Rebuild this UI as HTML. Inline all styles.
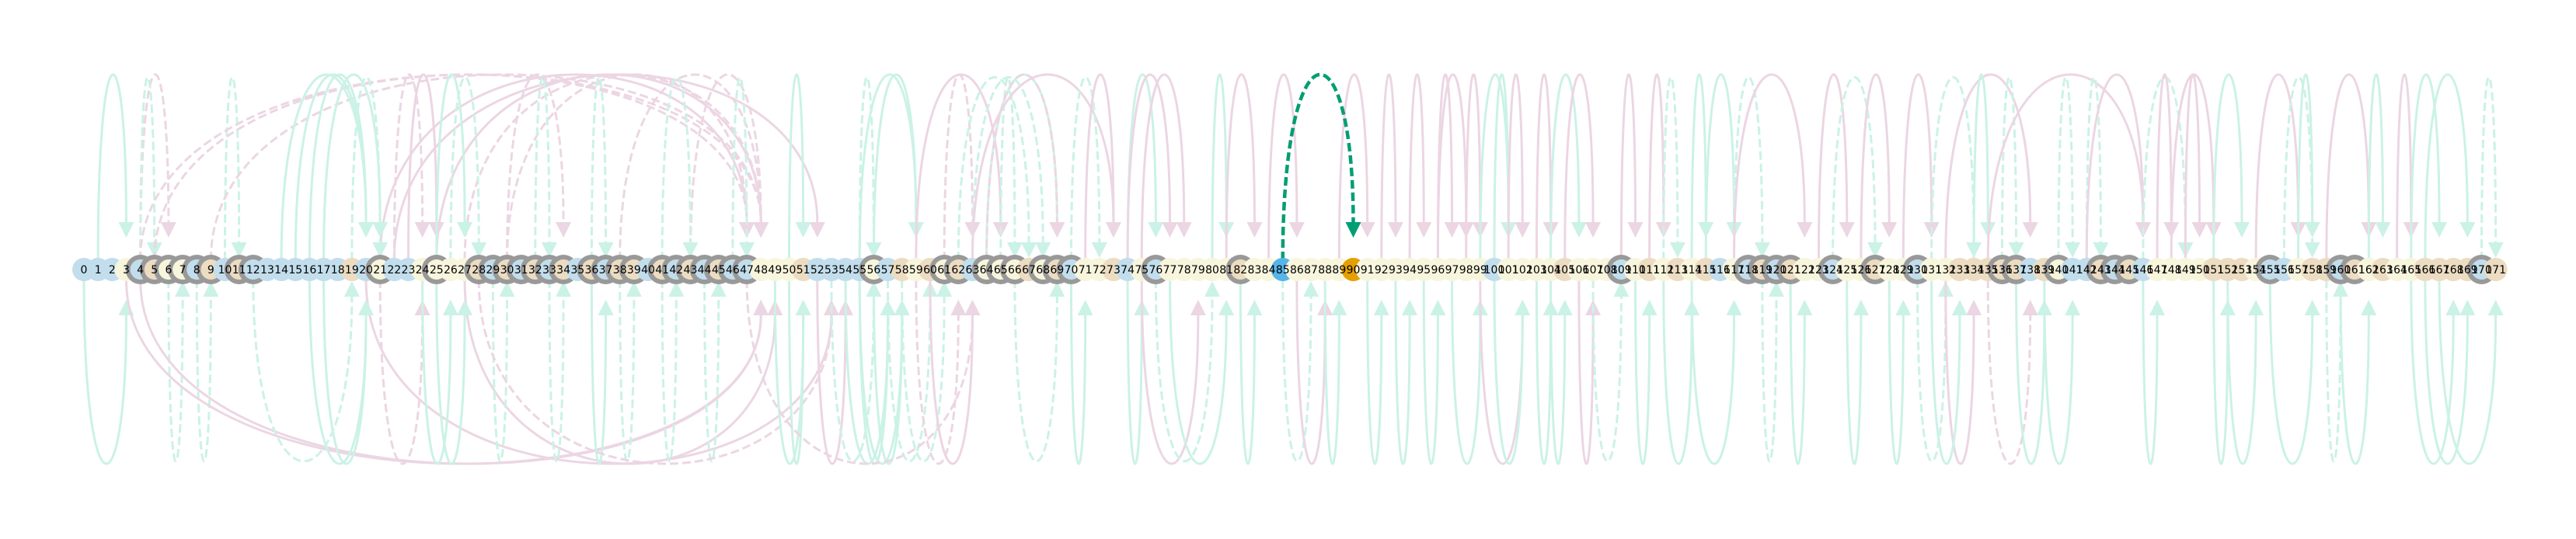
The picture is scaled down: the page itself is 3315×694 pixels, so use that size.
<!DOCTYPE html>
<html><head><meta charset="utf-8"><title>Arc diagram</title>
<style>html,body{margin:0;padding:0;background:#fff}svg{display:block}</style></head>
<body>
<svg id="chart" width="3315" height="694" viewBox="0 0 3315 694" xmlns="http://www.w3.org/2000/svg">
<rect width="3315" height="694" fill="#ffffff"/>
<g id="edges"></g>
<g id="nodes"></g>
<g id="labels"></g>
</svg>
<script>
// node fill categories: b=blue, c=cream, t=tan, h=highlight-source, o=highlight-target
const nodeColors = ["bbbcbtccbt","btbbbbbbbt","bcbbcccctb","tbtbtbtbtt","btbtbtbbcc","ctbbbbcbtc","tctbccctct","bcctbcbccc","cctcchcccc","occccccccct".slice(0,10),"bcccctcccb","ctctctbcbt","btccbcctcc","bcctttttbt","cbbtbtbccc","ctttcbbctt","btctcctttt","bt"].join("");
const ringNodes = [4,5,6,7,8,9,11,12,21,25,28,29,30,31,32,33,34,36,37,38,39,41,42,43,44,45,46,47,56,61,62,64,65,66,68,69,70,76,82,109,118,119,120,121,124,127,130,136,137,140,143,144,145,155,160,161,170];
// top edges: [source, target, dashed, colour]
const topEdges = [[1,3,0,"m"],[4,6,1,"p"],[4,5,1,"m"],[10,11,1,"m"],[4,48,1,"p"],[5,47,1,"p"],[9,48,1,"p"],[21,47,0,"p"],[22,52,0,"p"],[25,48,0,"p"],[27,48,1,"p"],[30,47,1,"p"],[38,48,1,"p"],[43,48,1,"p"],[14,20,0,"m"],[15,20,0,"m"],[16,20,0,"m"],[17,21,0,"m"],[19,21,1,"m"],[22,24,1,"p"],[23,25,0,"p"],[25,27,0,"m"],[26,28,1,"m"],[30,34,1,"p"],[32,33,1,"m"],[36,37,1,"m"],[41,43,1,"m"],[46,47,1,"m"],[50,51,0,"m"],[55,56,1,"m"],[55,59,0,"m"],[56,59,0,"m"],
[59,65,0,"p"],[61,63,1,"p"],[62,67,1,"m"],[63,68,1,"m"],[64,69,0,"m"],[65,66,1,"m"],[63,73,0,"p"],[64,69,1,"p"],[70,72,1,"m"],[71,73,0,"p"],[74,76,0,"m"],[74,77,0,"p"],[75,78,0,"p"],[80,81,0,"m"],[81,83,0,"p"],[84,86,0,"p"],[89,91,0,"p"],[92,93,0,"p"],[94,95,0,"p"],[96,97,0,"p"],[96,98,0,"p"],[98,99,0,"p"],[99,101,0,"m"],[100,101,0,"m"],[101,102,0,"p"],[103,104,0,"p"],[104,106,0,"m"],[105,107,0,"p"],[109,110,0,"p"],[111,112,0,"p"],[112,113,1,"m"],[114,115,0,"m"],
[115,117,0,"m"],[117,119,1,"m"],[117,122,0,"p"],[123,125,0,"p"],[124,127,1,"m"],[126,128,0,"p"],[129,131,0,"p"],[131,134,1,"m"],[132,138,0,"p"],[134,135,0,"m"],[136,137,1,"m"],[135,146,0,"p"],[140,141,1,"m"],[142,143,1,"m"],[142,146,0,"p"],[146,149,1,"m"],[147,148,0,"p"],[148,151,0,"p"],[149,150,0,"p"],[151,153,0,"m"],[154,157,0,"p"],[156,158,1,"m"],[157,158,0,"m"],[159,162,0,"p"],[162,163,0,"m"],[164,165,0,"p"],[165,167,0,"m"],[166,169,0,"m"],[170,171,1,"m"]];
// bottom edges: [source, target, dashed, colour]
const bottomEdges = [[0,3,0,"m"],[6,7,1,"m"],[8,9,1,"m"],[4,48,0,"p"],[3,48,0,"p"],[20,53,0,"p"],[27,49,0,"p"],[12,19,1,"m"],[16,20,0,"m"],[17,20,0,"m"],[21,24,1,"p"],[24,26,0,"m"],[25,27,0,"m"],[29,30,1,"m"],[33,34,1,"m"],[36,37,0,"m"],[38,39,1,"m"],[41,42,1,"m"],[44,45,1,"m"],[28,53,1,"p"],[50,51,0,"m"],[49,51,0,"m"],[52,54,0,"p"],[54,57,0,"m"],[55,58,0,"m"],[53,56,1,"m"],
[55,57,0,"m"],[56,58,0,"m"],[57,60,1,"m"],[58,61,1,"m"],[59,62,1,"p"],[60,63,0,"p"],[47,63,1,"p"],[66,69,1,"m"],[70,71,0,"m"],[74,75,0,"m"],[75,79,0,"p"],[76,80,1,"m"],[77,81,0,"m"],[82,83,0,"m"],[85,87,1,"m"],[86,88,0,"p"],[88,89,0,"m"],[91,92,0,"m"],[93,94,0,"m"],[95,96,0,"m"],[97,99,0,"m"],[99,102,0,"p"],[100,102,0,"m"],[103,104,0,"m"],[104,105,0,"m"],[106,107,0,"p"],[107,109,1,"m"],[110,111,0,"m"],[112,114,0,"m"],
[114,117,0,"m"],[119,120,1,"m"],[121,122,0,"m"],[125,126,0,"m"],[128,129,0,"m"],[130,132,1,"m"],[132,134,0,"p"],[131,133,0,"m"],[135,138,1,"p"],[137,139,0,"m"],[139,141,0,"m"],[146,147,0,"m"],[151,152,0,"m"],[152,154,0,"m"],[155,158,0,"m"],[159,160,1,"m"],[160,162,0,"m"],[165,168,0,"m"],[166,169,0,"m"],[167,171,0,"m"]];
const highlightEdge = [85, 90];

const NS = "http://www.w3.org/2000/svg";
const X0 = 108, DX = 18.15, Y0 = 347;
function xPos(i){ return X0 + DX * i; }
const fills = {b:"#c2deed", c:"#f8f5dd", t:"#ecdcc1", h:"#56b4e9", o:"#e69f00"};
const strokes = {m:"#cbf2e6", p:"#ecd6e3"};
const eg = document.getElementById("edges");

function drawEdge(s, t, top, dashed, col, width, name){
  const x1 = xPos(s), x2 = xPos(t);
  const shortArrow = dashed && col === strokes.m;
  let tip, y1, yc, base;
  if (top){ tip = shortArrow ? 332 : 306; y1 = 335; yc = 25; base = tip - 20; }
  else { tip = shortArrow ? 362 : 386; y1 = 360; yc = 668; base = tip + 20; }
  const p = document.createElementNS(NS, "path");
  
  
  p.setAttribute("d", `M${x1},${y1} C${x1},${yc} ${x2},${yc} ${x2},${base}`);
  p.setAttribute("fill", "none");
  p.setAttribute("stroke", col);
  p.setAttribute("stroke-width", width);
  if (dashed) p.setAttribute("stroke-dasharray", "11,5");
  eg.appendChild(p);
  const a = document.createElementNS(NS, "polygon");
  
  
  a.setAttribute("points", `${x2-10},${base} ${x2+10},${base} ${x2},${tip}`);
  a.setAttribute("fill", col);
  eg.appendChild(a);
}
bottomEdges.forEach(e => drawEdge(e[0], e[1], false, e[2], strokes[e[3]], 3, `edge-below-${e[0]}-${e[1]}`));
topEdges.forEach(e => drawEdge(e[0], e[1], true, e[2], strokes[e[3]], 3, `edge-above-${e[0]}-${e[1]}`));
drawEdge(highlightEdge[0], highlightEdge[1], true, 1, "#009e73", 4.5, "highlighted-edge");

const ng = document.getElementById("nodes"), lg = document.getElementById("labels");
for (let i = 0; i < nodeColors.length; i++){
  const cx = xPos(i);
  const ring = ringNodes.includes(i);
  if (ring){
    const r = document.createElementNS(NS, "circle");
    
    
    r.setAttribute("cx", cx); r.setAttribute("cy", Y0); r.setAttribute("r", 19);
    r.setAttribute("fill", "#999999");
    ng.appendChild(r);
  }
  const c = document.createElementNS(NS, "circle");
  
  
  c.setAttribute("cx", cx); c.setAttribute("cy", Y0); c.setAttribute("r", ring ? 13 : 15);
  c.setAttribute("fill", fills[nodeColors[i]] || fills.c);
  ng.appendChild(c);
  const t = document.createElementNS(NS, "text");
  
  
  t.setAttribute("x", cx); t.setAttribute("y", Y0 + 5);
  t.setAttribute("text-anchor", "middle");
  t.setAttribute("font-family", "DejaVu Sans, Liberation Sans, sans-serif");
  t.setAttribute("font-size", "14");
  t.setAttribute("fill", "#000");
  t.textContent = String(i);
  lg.appendChild(t);
}
</script>
</body></html>
